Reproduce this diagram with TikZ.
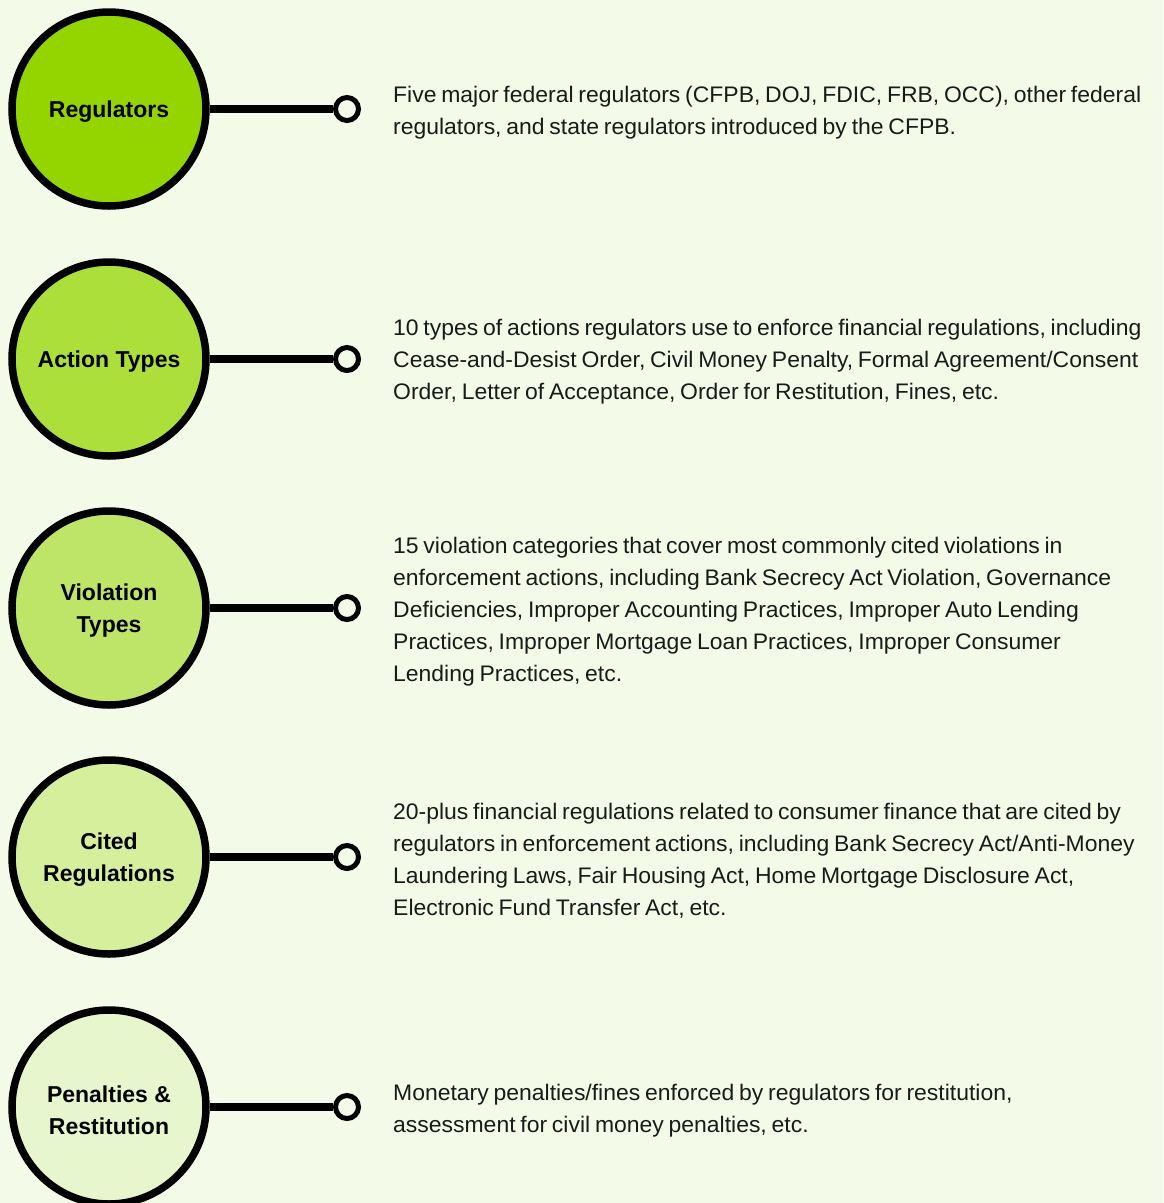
\documentclass[tikz,border=0pt]{standalone}
\usepackage{fontspec}
\setmainfont{Liberation Sans}
\newfontfamily\bodyfont{Liberation Sans}[FakeStretch=1.02,WordSpace=0.75]
\definecolor{bg}{HTML}{F3FBE8}
\definecolor{cA}{HTML}{94D500}
\definecolor{cB}{HTML}{ACDF3A}
\definecolor{cC}{HTML}{BEE568}
\definecolor{cD}{HTML}{D5EF9D}
\definecolor{cE}{HTML}{E7F6CC}
\definecolor{ink}{HTML}{1A1A1A}
\begin{document}
\begin{tikzpicture}[x=1pt,y=-1pt,
  bigc/.style={circle,draw=black,line width=7.5pt,minimum size=194pt,inner sep=0pt},
  lbl/.style={font=\fontsize{23}{32}\selectfont\bfseries,align=center,text=black,inner sep=0pt},
  endc/.style={circle,draw=black,line width=5pt,fill=bg,minimum size=23pt,inner sep=0pt},
  conn/.style={line width=8pt,draw=black},
  desc/.style={anchor=west,align=left,inner sep=0pt,text=ink,
    font=\bodyfont\fontsize{22.5}{32}\selectfont}]
\fill[bg] (0,0) rectangle (1163,1203);
\useasboundingbox (0,0) rectangle (1163,1203);
\foreach \i/\y/\c/\t in {1/109/cA/Regulators,2/359/cB/Action Types,3/608/cC/Violation\\Types,4/857/cD/Cited\\Regulations,5/1107/cE/Penalties \&\\Restitution}{
  \node[bigc,fill=\c] (c\i) at (109,\y) {};
  \node[lbl] (l\i) at ([yshift=-3pt]c\i.center) {\t};
  \node[endc] (e\i) at (347,\y) {};
  \draw[conn] (c\i.east) -- (e\i.west);
}
\node[desc] (d1) at (393,113) {Five major federal regulators (CFPB, DOJ, FDIC, FRB, OCC), other federal\\regulators, and state regulators introduced by the CFPB.};
\node[desc] (d2) at (393,362) {10 types of actions regulators use to enforce financial regulations, including\\Cease-and-Desist Order, Civil Money Penalty, Formal Agreement/Consent\\Order, Letter of Acceptance, Order for Restitution, Fines, etc.};
\node[desc] (d3) at (393,612) {15 violation categories that cover most commonly cited violations in\\enforcement actions, including Bank Secrecy Act Violation, Governance\\Deficiencies, Improper Accounting Practices, Improper Auto Lending\\Practices, Improper Mortgage Loan Practices, Improper Consumer\\Lending Practices, etc.};
\node[desc] (d4) at (393,861) {20-plus financial regulations related to consumer finance that are cited by\\regulators in enforcement actions, including Bank Secrecy Act/Anti-Money\\Laundering Laws, Fair Housing Act, Home Mortgage Disclosure Act,\\Electronic Fund Transfer Act, etc.};
\node[desc] (d5) at (393,1111) {Monetary penalties/fines enforced by regulators for restitution,\\assessment for civil money penalties, etc.};
\end{tikzpicture}
\end{document}
